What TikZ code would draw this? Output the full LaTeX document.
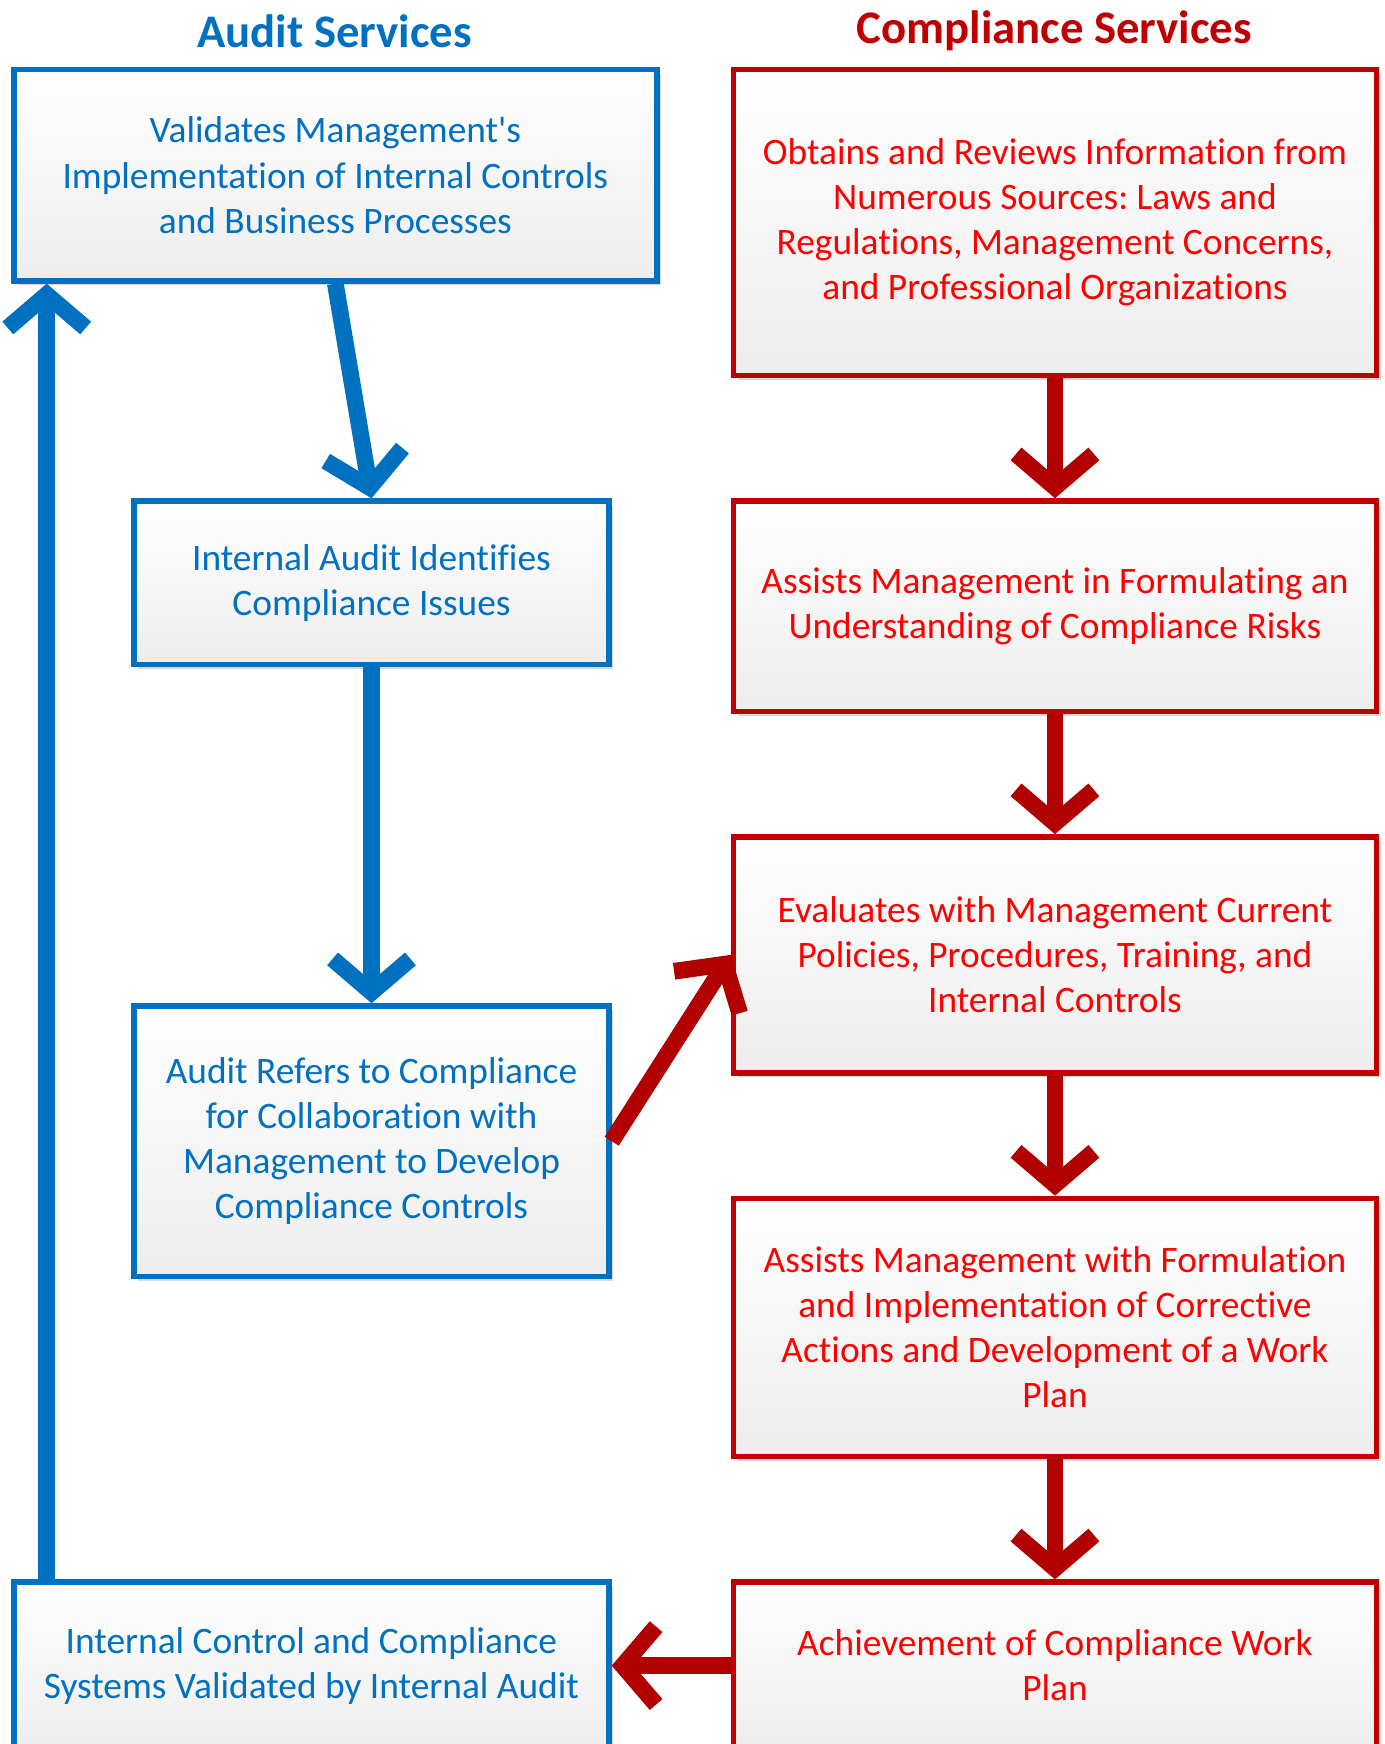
\documentclass[tikz,border=0pt]{standalone}
\usepackage{fontspec}
\setmainfont{Carlito}[Ligatures={NoCommon,NoContextual,NoRequired},Contextuals={NoAlternate}]
\frenchspacing
\usetikzlibrary{arrows.meta,shadows}
\definecolor{auditblue}{HTML}{0070C0}
\definecolor{compred}{HTML}{C00000}
\definecolor{comptext}{HTML}{FF0000}
\definecolor{arrowred}{HTML}{B20000}
\tikzset{
  box/.style={rectangle, line width=2.5pt, top color=white, bottom color=black!7,
    align=center, font=\fontsize{16.8}{20.25}\selectfont,
    drop shadow={shadow xshift=2pt, shadow yshift=-2pt, fill=black!25, opacity=.6}},
  auditbox/.style={box, draw=auditblue, text=auditblue},
  compbox/.style={box, draw=compred, text=comptext},
  title/.style={font=\fontsize{21}{25}\selectfont\bfseries},
  flow/.style={line width=7.5pt, -{Straight Barb[length=15pt,width=35pt]}},
  auditflow/.style={flow, draw=auditblue},
  compflow/.style={flow, draw=arrowred}
}
\begin{document}
\begin{tikzpicture}[x=0.5pt,y=-0.5pt]
\useasboundingbox (0,0) rectangle (1245,1568);
\node[title, text=auditblue] (audittitle) at (301,28) {Audit Services};
\node[title, text=compred] (comptitle) at (948,28) {Compliance Services};
\node[auditbox, minimum width=289pt, minimum height=95pt] (validate) at (301.5,157.5)
  {Validates Management\textquotesingle s\\Implementation of Internal Controls\\and Business Processes};
\node[auditbox, minimum width=213.5pt, minimum height=73.5pt] (identify) at (334,524)
  {Internal Audit Identifies\\Compliance Issues};
\node[auditbox, minimum width=213.5pt, minimum height=121.5pt] (refer) at (334,1026)
  {Audit Refers to Compliance\\for Collaboration with\\Management to Develop\\Compliance Controls};
\node[auditbox, minimum width=267.5pt, minimum height=75pt] (validated) at (280,1497.5)
  {Internal Control and Compliance\\Systems Validated by Internal Audit};
\node[compbox, minimum width=289pt, minimum height=137.5pt] (obtain) at (948.5,200)
  {Obtains and Reviews Information from\\Numerous Sources: Laws and\\Regulations, Management Concerns,\\and Professional Organizations};
\node[compbox, minimum width=289pt, minimum height=94.5pt] (risks) at (948.5,545)
  {Assists Management in Formulating an\\Understanding of Compliance Risks};
\node[compbox, minimum width=289pt, minimum height=106pt] (evaluate) at (948.5,858.5)
  {Evaluates with Management Current\\Policies, Procedures, Training, and\\Internal Controls};
\node[compbox, minimum width=289pt, minimum height=116pt] (corrective) at (948.5,1193.5)
  {Assists Management with Formulation\\and Implementation of Corrective\\Actions and Development of a Work\\Plan};
\node[compbox, minimum width=289pt, minimum height=75pt] (workplan) at (948.5,1497.5)
  {Achievement of Compliance Work\\Plan};
\draw[auditflow] (validate.south) -- (identify.north);
\draw[auditflow] (identify.south) -- (refer.north);
\draw[compflow] (refer.east) -- (evaluate.west);
\draw[compflow] (obtain.south) -- (risks.north);
\draw[compflow] (risks.south) -- (evaluate.north);
\draw[compflow] (evaluate.south) -- (corrective.north);
\draw[compflow] (corrective.south) -- (workplan.north);
\draw[compflow] (workplan.west) -- (validated.east);
\draw[auditflow] ([xshift=16pt]validated.north west) -- ([xshift=16pt]validate.south west);
\end{tikzpicture}
\end{document}
